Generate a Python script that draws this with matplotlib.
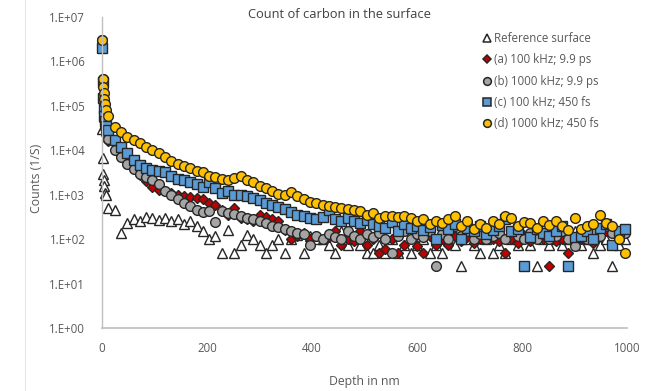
import matplotlib
matplotlib.use("Agg")
import matplotlib.pyplot as plt
from matplotlib.ticker import FixedLocator, FuncFormatter
from matplotlib.lines import Line2D

DEPTH_NM = [0, 1, 2, 3, 4, 6, 8, 12, 24, 36, 48, 60, 72, 84, 96, 108, 120, 132, 144, 156,
            168, 180, 192, 204, 216, 228, 240, 252, 264, 276, 288, 300, 312, 324, 336, 348,
            360, 372, 384, 396, 408, 420, 432, 444, 456, 468, 480, 492, 504, 516, 528, 540,
            552, 564, 576, 588, 600, 612, 624, 636, 648, 660, 672, 684, 696, 708, 720, 732,
            744, 756, 768, 780, 792, 804, 816, 828, 840, 852, 864, 876, 888, 900, 912, 924,
            936, 948, 960, 972, 984, 996]

REF = [3.0e4, 6.6e3, 3.0e3, 2.2e3, 1.6e3, 1.1e3, 1.0e3, 500, 450, 140, 230, 280, 250, 320, 300,
       270, 300, 250, 280, 220, 250, 200, 150, 100, 120, 50, 160, 50, 75, 125, 100, 75, 50, 75,
       100, 50, 100, 125, 50, 120, 100, 100, 75, 50, 150, 75, 100, 75, 50, 50, 75, 50, 100, 50,
       75, 50, 75, 100, 50, 75, 50, 100, 75, 25, 100, 75, 50, 100, 50, 75, 50, 100, 75, 125,
       75, 25, 100, 75, 100, 75, 100, 150, 75, 100, 50, 75, 100, 25, 75, 100]

A_100K_9PS = [2.5e6, 3.5e5, 1.3e5, 7e4, 4.5e4, 3e4, 2.2e4, 1.6e4, 1.0e4, 7.5e3, 5.5e3, 3.8e3,
              2.8e3, 2.0e3, 1.5e3, 1.3e3, 1.2e3, 1.1e3, 1.0e3, 950, 900, 850, 800, 650, 600,
              450, 350, 500, 300, 280, 250, 350, 320, 280, 260, 160, 100, 120, 140, 100, 120,
              100, 110, 150, 75, 100, 90, 150, 75, 100, 50, 60, 100, 50, 75, 100, 70, 50, 120,
              75, 100, 75, 120, 90, 110, 80, 100, 120, 100, 90, 50, 100, 80, 110, 90, 120, 100,
              25, 90, 100, 50, 110, 100, 120, 80, 130, 150, 160, 150, 150]

B_1000K_9PS = [3.0e6, 4e5, 1.5e5, 8e4, 5e4, 3.5e4, 2.5e4, 1.8e4, 1.0e4, 7e3, 5e3, 3.8e3, 3.0e3,
               2.5e3, 2.1e3, 1.7e3, 1.2e3, 1.0e3, 800, 650, 550, 450, 400, 420, 240, 420, 380,
               360, 340, 300, 280, 250, 230, 200, 190, 170, 150, 140, 130, 75, 120, 100, 130,
               110, 100, 150, 120, 100, 130, 110, 140, 100, 50, 120, 150, 100, 130, 110, 150,
               25, 130, 100, 200, 120, 150, 100, 130, 100, 120, 140, 100, 150, 120, 100, 140,
               100, 130, 100, 120, 150, 100, 70, 130, 100, 150, 120, 200, 140, 100, 140]

C_100K_450FS = [2.0e6, 3.5e5, 1.5e5, 9e4, 6e4, 4.5e4, 3.5e4, 2.8e4, 1.7e4, 1.2e4, 8.5e3, 6.0e3,
                4.7e3, 4.0e3, 3.6e3, 3.4e3, 3.2e3, 2.6e3, 2.3e3, 2.1e3, 1.9e3, 1.7e3, 1.5e3,
                1.9e3, 1.4e3, 1.1e3, 1.2e3, 1.0e3, 1.0e3, 950, 850, 750, 650, 600, 520, 480,
                400, 350, 330, 300, 280, 320, 450, 280, 260, 300, 250, 230, 270, 220, 200, 180,
                240, 150, 220, 180, 200, 160, 190, 100, 210, 170, 220, 100, 180, 150, 200, 130,
                160, 200, 280, 150, 170, 25, 110, 170, 140, 120, 150, 200, 25, 110, 120, 150,
                100, 180, 220, 75, 150, 170]

D_1000K_450FS = [3.0e6, 4.0e5, 2.6e5, 1.9e5, 1.4e5, 1.1e5, 8.0e4, 6.0e4, 3.4e4, 2.6e4, 2.0e4,
                 1.7e4, 1.45e4, 1.2e4, 1.0e4, 8.5e3, 7.0e3, 5.8e3, 5.0e3, 4.4e3, 3.9e3, 3.5e3,
                 3.2e3, 2.7e3, 2.5e3, 2.3e3, 2.2e3, 2.4e3, 2.6e3, 2.2e3, 1.9e3, 1.6e3, 1.4e3,
                 1.2e3, 1.05e3, 1.0e3, 1.15e3, 950, 800, 700, 650, 600, 560, 520, 500, 480, 450,
                 420, 350, 380, 300, 330, 330, 320, 340, 300, 260, 280, 220, 250, 230, 280, 330,
                 200, 250, 170, 220, 180, 260, 220, 330, 300, 200, 240, 230, 180, 260, 210, 250,
                 200, 160, 300, 170, 200, 220, 350, 230, 200, 100, 50]

SERIES = [
    ("Reference surface", REF, "^", "white", 6.8),
    ("(a) 100 kHz; 9.9 ps", A_100K_9PS, "D", "#C00000", 5.0),
    ("(b) 1000 kHz; 9.9 ps", B_1000K_9PS, "o", "#A5A5A5", 7.0),
    ("(c) 100 kHz; 450 fs", C_100K_450FS, "s", "#5B9BD5", 6.5),
    ("(d) 1000 kHz; 450 fs", D_1000K_450FS, "o", "#FFC000", 7.0),
]

Y_TICKS = [1e0, 1e1, 1e2, 1e3, 1e4, 1e5, 1e6, 1e7]
X_TICKS = [0, 200, 400, 600, 800, 1000]

FONT = ["Open Sans", "DejaVu Sans"]
TXT = "#595959"

fig = plt.figure(figsize=(6.46, 3.91), dpi=100)
ax = fig.add_axes([102 / 646, 1 - 328 / 391, (627 - 102) / 646, (328 - 17) / 391])

handles = []
for label, vals, marker, color, ms in SERIES:
    ax.plot(DEPTH_NM, vals, linestyle="none", marker=marker, markersize=ms,
            markerfacecolor=color, markeredgecolor="#262626", markeredgewidth=1.0,
            label=label, clip_on=False)
    handles.append(Line2D([], [], linestyle="none", marker=marker, markersize=ms * 0.8,
                          markerfacecolor=color, markeredgecolor="#262626",
                          markeredgewidth=1.1, label=label))

ax.set_yscale("log")
ax.set_ylim(1, 1e7)
ax.set_xlim(0, 1000)
ax.yaxis.set_major_locator(FixedLocator(Y_TICKS))
ax.yaxis.set_minor_locator(FixedLocator([]))
ax.xaxis.set_major_locator(FixedLocator(X_TICKS))


def fmt_e(v, pos):
    import math
    e = int(round(math.log10(v)))
    return "1.E+%02d" % e


ax.yaxis.set_major_formatter(FuncFormatter(fmt_e))
ax.tick_params(axis="both", length=0, labelsize=8.3, labelcolor=TXT)
ax.tick_params(axis="y", pad=12)
ax.tick_params(axis="x", pad=10)
for lbl in ax.get_xticklabels() + ax.get_yticklabels():
    lbl.set_family(FONT)

for s in ["top", "right"]:
    ax.spines[s].set_visible(False)
ax.spines["left"].set_color("#BFBFBF")
ax.spines["bottom"].set_color("#BFBFBF")
ax.spines["left"].set_linewidth(1.0)
ax.spines["bottom"].set_linewidth(1.2)

fig.text(339 / 646, 1 - 14 / 391, "Count of carbon in the surface", ha="center", va="center",
         fontsize=9.3, color="#404040", family=FONT)
fig.text(364 / 646, 1 - 381 / 391, "Depth in nm", ha="center", va="center",
         fontsize=8.8, color=TXT, family=FONT)
fig.text(36 / 646, 1 - 178 / 391, "Counts (1/S)", ha="center", va="center", rotation=90,
         fontsize=8.8, color=TXT, family=FONT)

leg = fig.legend(handles=handles, loc="upper left", bbox_to_anchor=(483 / 646, 1 - 32 / 391),
                 frameon=False, handlelength=0.7, handletextpad=0.25, labelspacing=0.72,
                 borderaxespad=0, borderpad=0, prop={"family": FONT, "size": 8.3})
for t in leg.get_texts():
    t.set_color(TXT)

fig.add_artist(Line2D([25 / 646, 25 / 646], [0, 1], color="#E6E6E6", linewidth=0.8))

fig.savefig("out.png", dpi=100)
